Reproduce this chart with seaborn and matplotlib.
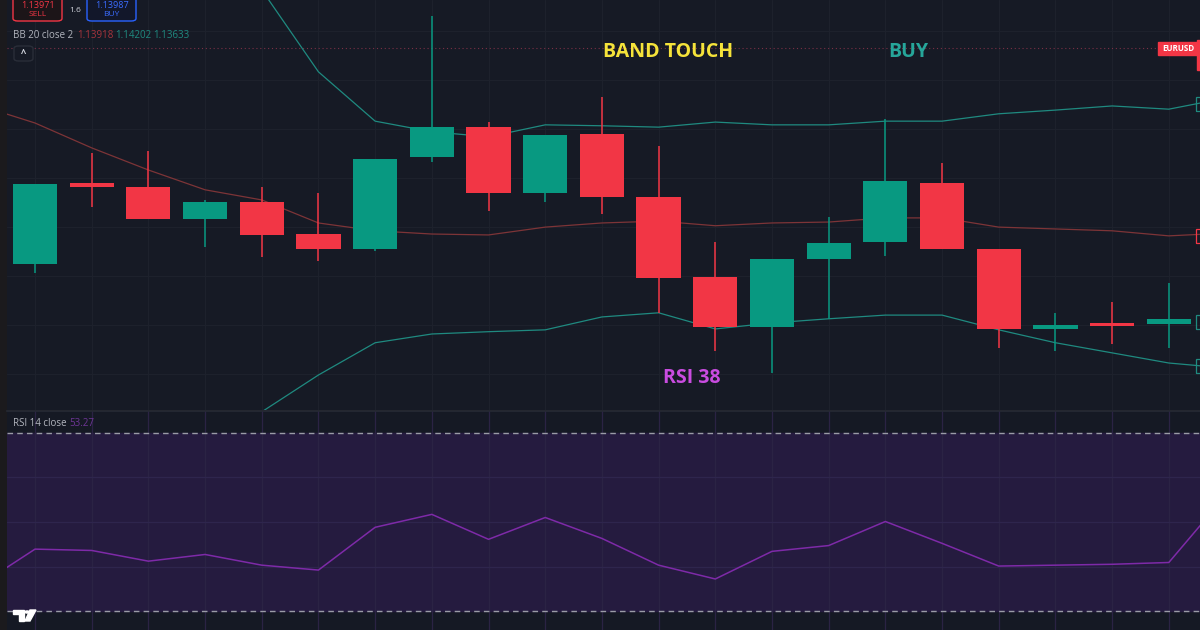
import numpy as np
import pandas as pd
import matplotlib
matplotlib.use("Agg")
import matplotlib.pyplot as plt
from matplotlib.patches import Rectangle, FancyBboxPatch, Polygon
import seaborn as sns

# ---------------- data ----------------
bar_idx = list(range(21))
opens = [1.13855, 1.14031, 1.14022, 1.13953, 1.13990, 1.13920, 1.13888, 1.14087, 1.14152, 1.14009, 1.14137,
         1.14000, 1.13827, 1.13718, 1.13866, 1.13903, 1.14031, 1.13888, 1.13714, 1.13727, 1.13725]
highs = [1.14029, 1.14096, 1.14100, 1.13994, 1.14022, 1.14009, 1.14083, 1.14393, 1.14163, 1.14135, 1.14218,
         1.14111, 1.13903, 1.13866, 1.13957, 1.14170, 1.14074, 1.13888, 1.13749, 1.13773, 1.13814]
lows = [1.13836, 1.13979, 1.13953, 1.13892, 1.13870, 1.13862, 1.13883, 1.14076, 1.13970, 1.13990, 1.13964,
        1.13749, 1.13666, 1.13619, 1.13736, 1.13872, 1.13888, 1.13673, 1.13666, 1.13681, 1.13673]
closes = [1.14029, 1.14022, 1.13953, 1.13990, 1.13918, 1.13888, 1.14083, 1.14152, 1.14009, 1.14135, 1.14000,
          1.13825, 1.13718, 1.13866, 1.13901, 1.14035, 1.13888, 1.13714, 1.13723, 1.13720, 1.13736]

# Bollinger bands + RSI run one bar before and one bar after the visible window
band_idx = list(range(-1, 22))
bb_basis = [1.14200, 1.14161, 1.14107, 1.14059, 1.14016, 1.13994, 1.13944, 1.13927, 1.13920, 1.13918, 1.13935,
            1.13944, 1.13948, 1.13938, 1.13944, 1.13946, 1.13955, 1.13955, 1.13935, 1.13931, 1.13927, 1.13916, 1.13922]
bb_upper = [1.15079, 1.14992, 1.14905, 1.14797, 1.14623, 1.14450, 1.14272, 1.14165, 1.14142, 1.14131, 1.14157,
            1.14155, 1.14152, 1.14163, 1.14157, 1.14157, 1.14165, 1.14165, 1.14181, 1.14189, 1.14198, 1.14191, 1.14215]
bb_lower = [1.13213, 1.13278, 1.13343, 1.13408, 1.13473, 1.13534, 1.13614, 1.13684, 1.13703, 1.13708, 1.13712,
            1.13740, 1.13749, 1.13714, 1.13727, 1.13736, 1.13744, 1.13744, 1.13712, 1.13684, 1.13662, 1.13640, 1.13629]
rsi_vals = [35.6, 43.9, 43.6, 41.2, 42.7, 40.3, 39.2, 48.8, 51.7, 46.1, 51.0, 46.3,
            40.3, 37.2, 43.4, 44.7, 50.1, 45.2, 40.1, 40.3, 40.5, 40.9, 55.9]

bb_values = ["1.13918", "1.14202", "1.13633"]
rsi_value = "53.27"
sell_price = "1.13971"
buy_price = "1.13987"
spread = "1.6"
symbol = "EURUSD"
symbol_price = 1.14324
rsi_upper, rsi_lower = 70, 30

# ---------------- style ----------------
BG = "#161a25"
GREEN = "#089981"
RED = "#f23645"
BAND = "#1f8a80"
BASIS = "#7d3437"
GRID = "#1d212c"

sns.set_theme(style="dark", rc={"axes.facecolor": BG, "figure.facecolor": "#1b1a1d"})
plt.rcParams["font.family"] = ["Open Sans", "DejaVu Sans"]

fig = plt.figure(figsize=(12, 6.3), dpi=100)
W, H = 1200, 630


def fx(x, y):
    return x / W, 1 - y / H


ax = fig.add_axes([7 / W, 1 - 410 / H, 1193 / W, 410 / H])
ax_rsi = fig.add_axes([7 / W, 0, 1193 / W, 219 / H])

df = pd.DataFrame({"i": bar_idx, "o": opens, "h": highs, "l": lows, "c": closes})
df["up"] = df["c"] >= df["o"]
df["col"] = np.where(df["up"], GREEN, RED)
df["bottom"] = df[["o", "c"]].min(axis=1)
df["height"] = (df["c"] - df["o"]).abs().clip(lower=0.00006)

bands = pd.DataFrame({"i": band_idx, "basis": bb_basis, "upper": bb_upper, "lower": bb_lower, "rsi": rsi_vals})

# grid
for i in bar_idx:
    ax.axvline(i, color=GRID, lw=0.9, zorder=0)
    ax_rsi.axvline(i, color="#2b2344", lw=0.9, zorder=1)
for yv in np.arange(1.13616, 1.1440, 0.001064):
    ax.axhline(yv, color=GRID, lw=0.9, zorder=0)

# bands
sns.lineplot(data=bands, x="i", y="upper", ax=ax, color=BAND, lw=0.9, zorder=2)
sns.lineplot(data=bands, x="i", y="lower", ax=ax, color=BAND, lw=0.9, zorder=2)
sns.lineplot(data=bands, x="i", y="basis", ax=ax, color=BASIS, lw=0.9, zorder=2)

# candles
ax.vlines(df["i"], df["l"], df["h"], colors=df["col"], lw=1.1, zorder=3)
ax.bar(df["i"], df["height"], bottom=df["bottom"], width=0.78, color=df["col"],
       edgecolor=df["col"], linewidth=0, zorder=4)

# symbol price line
ax.axhline(symbol_price, color="#7a3046", lw=0.8, ls=(0, (1, 2.5)), zorder=1)

ax.set_xlim(-0.494, 20.55)
ax.set_ylim(1.13538, 1.14428)
ax.set_xlabel("")
ax.set_ylabel("")
ax.set_xticks([])
ax.set_yticks([])
for s in ax.spines.values():
    s.set_visible(False)

ax.text(11.16, 1.14315, "BAND TOUCH", color="#f5e33a", fontsize=14, fontweight="bold",
        ha="center", va="center", zorder=6)
ax.text(15.41, 1.14315, "BUY", color="#26a69a", fontsize=14, fontweight="bold",
        ha="center", va="center", zorder=6)
ax.text(11.59, 1.13608, "RSI 38", color="#c94ce0", fontsize=14, fontweight="bold",
        ha="center", va="center", zorder=6)

# RSI panel
ax_rsi.set_facecolor("#151924")
ax_rsi.axhspan(rsi_lower, rsi_upper, color="#251b3f", zorder=0)
for yv in [40, 50, 60]:
    ax_rsi.axhline(yv, color="#2e254d", lw=0.9, zorder=1)
for yv in [rsi_upper, rsi_lower]:
    ax_rsi.axhline(yv, color="#9a9ca6", lw=1.0, ls=(0, (4, 3)), zorder=2)
sns.lineplot(data=bands, x="i", y="rsi", ax=ax_rsi, color="#7e2aa8", lw=1.1, zorder=3)
ax_rsi.set_xlim(-0.494, 20.55)
ax_rsi.set_ylim(25.75, 74.9)
ax_rsi.set_xlabel("")
ax_rsi.set_ylabel("")
ax_rsi.set_xticks([])
ax_rsi.set_yticks([])
for s in ax_rsi.spines.values():
    s.set_visible(False)
ax_rsi.spines["top"].set_visible(True)
ax_rsi.spines["top"].set_color("#262a35")
ax_rsi.spines["top"].set_linewidth(1.2)

# ---------------- header widgets ----------------
def box(x0, y0, x1, y1, ec, fc):
    p = FancyBboxPatch(fx(x0, y1), (x1 - x0) / W, (y1 - y0) / H, boxstyle="round,pad=0,rounding_size=0.004",
                       transform=fig.transFigure, ec=ec, fc=fc, lw=1.0)
    fig.add_artist(p)


box(13, -4, 62, 21, RED, "#1c1518")
box(87, -4, 136, 21, "#2962ff", "#12172a")
fig.text(*fx(37.5, 5), sell_price, color=RED, fontsize=6.5, ha="center", va="center")
fig.text(*fx(37.5, 15), "SELL", color=RED, fontsize=6, ha="center", va="center")
fig.text(*fx(111.5, 5), buy_price, color="#3b6cff", fontsize=6.5, ha="center", va="center")
fig.text(*fx(111.5, 15), "BUY", color="#3b6cff", fontsize=6, ha="center", va="center")
fig.text(*fx(75, 10), spread, color="#d1d4dc", fontsize=6, ha="center", va="center")

fig.text(*fx(13, 35), "BB 20 close 2", color="#b2b5be", fontsize=7, ha="left", va="center")
fig.text(*fx(77, 35), bb_values[0], color="#a8343c", fontsize=7, ha="left", va="center")
fig.text(*fx(115, 35), bb_values[1], color="#1f8a80", fontsize=7, ha="left", va="center")
fig.text(*fx(153, 35), bb_values[2], color="#1f8a80", fontsize=7, ha="left", va="center")

box(14, 46, 33, 61, "#2a2e39", "#161a25")
fig.text(*fx(23.5, 55), "^", color="#d1d4dc", fontsize=7, ha="center", va="center", fontweight="bold")

fig.add_artist(Rectangle(fx(1158, 55), 40 / W, 13 / H, transform=fig.transFigure, color=RED))
fig.text(*fx(1178, 48.5), symbol, color="white", fontsize=5.8, ha="center", va="center", fontweight="bold")
fig.add_artist(Rectangle(fx(1197, 70), 3 / W, 30 / H, transform=fig.transFigure, color=RED))

for yc, ec in [(104, BAND), (236, RED), (322, BAND), (366, BAND)]:
    fig.add_artist(Rectangle(fx(1196, yc + 7), 6 / W, 14 / H, transform=fig.transFigure,
                             fc="none", ec=ec, lw=0.9))

fig.text(*fx(13, 423), "RSI 14 close", color="#b2b5be", fontsize=7, ha="left", va="center")
fig.text(*fx(69, 423), rsi_value, color="#6e3596", fontsize=7, ha="left", va="center")

# TradingView logo
logo_parts = [
    [(13, 610), (24, 610), (24, 621), (19, 621), (19, 614), (13, 614)],
    [(30, 610), (36, 610), (30, 621), (25, 621)],
]
for pts in logo_parts:
    fig.add_artist(Polygon([fx(x, y) for x, y in pts], closed=True, transform=fig.transFigure,
                           color="white", zorder=10))
fig.add_artist(plt.Circle(fx(27, 612), 2.0 / W, transform=fig.transFigure, color="white", zorder=10))

fig.savefig("out.png", dpi=100, facecolor=fig.get_facecolor())
